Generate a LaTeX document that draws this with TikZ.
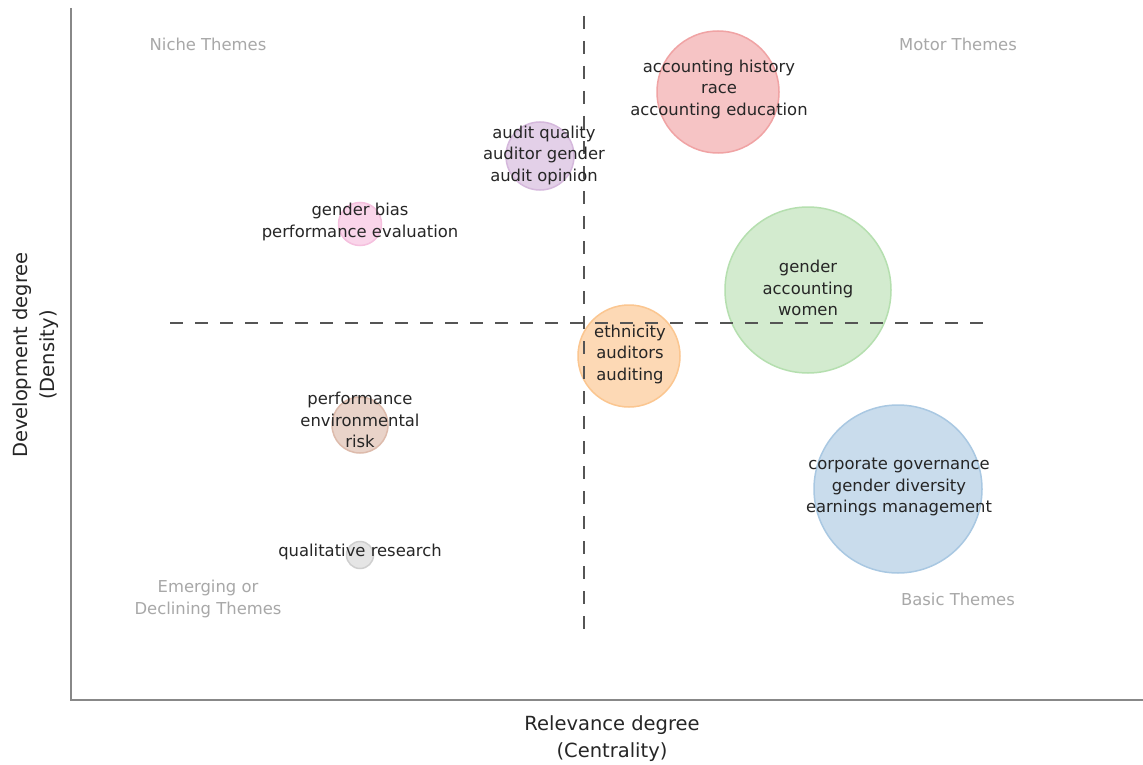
\documentclass[tikz,border=0pt]{standalone}
\usepackage{fontspec}
\setmainfont{DejaVu Sans}
\definecolor{txt}{HTML}{262626}
\definecolor{quadgray}{HTML}{A8A8A8}
\definecolor{axisgray}{HTML}{888888}
\definecolor{dashgray}{HTML}{555555}
\definecolor{redF}{HTML}{F6C4C5}\definecolor{redD}{HTML}{F0A3A4}
\definecolor{purF}{HTML}{E3D0E8}\definecolor{purD}{HTML}{D5B8DC}
\definecolor{pinkF}{HTML}{FAD5EA}\definecolor{pinkD}{HTML}{F5C0DE}
\definecolor{grnF}{HTML}{D3EBCF}\definecolor{grnD}{HTML}{B5DFAF}
\definecolor{orgF}{HTML}{FDD9B5}\definecolor{orgD}{HTML}{FBC690}
\definecolor{brnF}{HTML}{E9D3C9}\definecolor{brnD}{HTML}{DDBBAC}
\definecolor{gryF}{HTML}{E5E5E5}\definecolor{gryD}{HTML}{CFCFCF}
\definecolor{bluF}{HTML}{C9DCEC}\definecolor{bluD}{HTML}{A9C8E2}
\begin{document}
\begin{tikzpicture}[x=1pt,y=-1pt,
  bubble/.style={circle, inner sep=0pt, line width=1.5pt},
  lbl/.style={align=center, text=txt, inner sep=0pt, font=\fontsize{16.4}{21.5}\selectfont},
  quad/.style={align=center, text=quadgray, inner sep=0pt, font=\fontsize{16.4}{21.5}\selectfont},
  axlbl/.style={align=center, text=txt, inner sep=0pt, font=\fontsize{19.5}{27}\selectfont},
  axisline/.style={draw=axisgray, line width=1.2pt},
  quadline/.style={draw=dashgray, line width=2.5pt, dash pattern=on 13pt off 12pt}]
\useasboundingbox (0,0) rectangle (1143,765);
\fill[white] (0,0) rectangle (1143,765);
% axes
\coordinate (ytop) at (71,8);
\coordinate (orig) at (71,700);
\coordinate (xend) at (1143,700);
\draw[axisline] (ytop) -- (orig) -- (xend);
% bubbles
\node[bubble, minimum size=122pt, fill=redF, draw=redD] (bred) at (718,92) {};
\node[bubble, minimum size=68pt, fill=purF, draw=purD] (bpur) at (540,156) {};
\node[bubble, minimum size=43pt, fill=pinkF, draw=pinkD] (bpink) at (360,224) {};
\node[bubble, minimum size=166pt, fill=grnF, draw=grnD] (bgrn) at (808,290) {};
\node[bubble, minimum size=102pt, fill=orgF, draw=orgD] (borg) at (629,356) {};
\node[bubble, minimum size=56pt, fill=brnF, draw=brnD] (bbrn) at (360,425) {};
\node[bubble, minimum size=27pt, fill=gryF, draw=gryD] (bgry) at (360,555) {};
\node[bubble, minimum size=168pt, fill=bluF, draw=bluD] (bblu) at (898,489) {};
% quadrant dividers
\coordinate (vtop) at (584,16);
\coordinate (vbot) at (584,632);
\coordinate (hl) at (170,323);
\coordinate (hr) at (992,323);
\draw[quadline] (vtop) -- (vbot);
\draw[quadline] (hl) -- (hr);
% labels
\node[lbl] (tred) at (719,89) {accounting history\\race\\accounting education};
\node[lbl] (tpur) at (544,155) {audit quality\\auditor gender\\audit opinion};
\node[lbl] (tpink) at (360,222) {gender bias\\performance evaluation};
\node[lbl] (tgrn) at (808,288) {gender\\accounting\\women};
\node[lbl] (torg) at (630,354) {ethnicity\\auditors\\auditing};
\node[lbl] (tbrn) at (360,420) {performance\\environmental\\risk};
\node[lbl] (tgry) at (360,552) {qualitative research};
\node[lbl] (tblu) at (899,487) {corporate governance\\gender diversity\\earnings management};
% quadrant names
\node[quad] (qn) at (208,44) {Niche Themes};
\node[quad] (qm) at (958,44) {Motor Themes};
\node[quad] (qe) at (208,599) {Emerging or\\Declining Themes};
\node[quad] (qb) at (958,599) {Basic Themes};
% axis labels
\node[axlbl] (xl) at (612,739) {Relevance degree\\(Centrality)};
\node[axlbl, rotate=90] (yl) at (36,355) {Development degree\\(Density)};
\end{tikzpicture}
\end{document}
